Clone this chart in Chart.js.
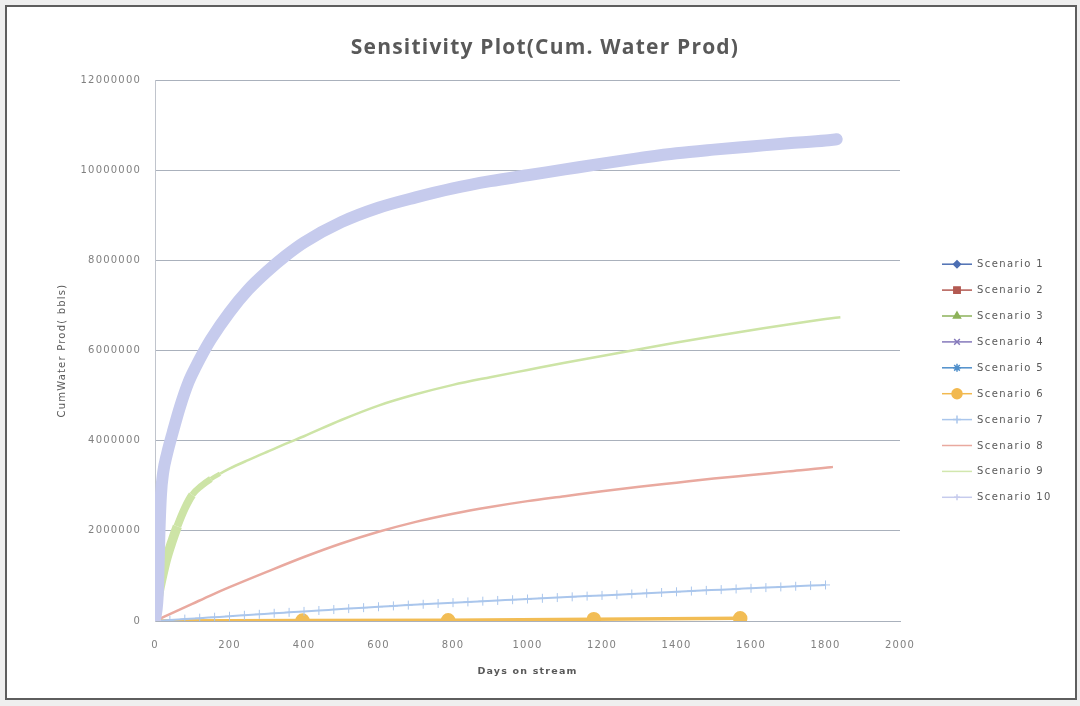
<!DOCTYPE html>
<html>
<head>
<meta charset="utf-8">
<title>Sensitivity Plot</title>
<script src="https://cdn.jsdelivr.net/npm/chart.js@4.4.1/dist/chart.umd.min.js"></script>
<style>
  html, body { margin: 0; padding: 0; background: #efefef; }
  #frame { position: absolute; left: 5px; top: 5px; width: 1068px; height: 691px; border: 2px solid #5e5e5e; background: #fff; }
  #chart { position: absolute; left: 0; top: 0; }
</style>
</head>
<body>
<div id="frame"></div>
<canvas id="chart" width="1080" height="706"></canvas>
<script>
// Values (days, bbls)
const scenarioNames = ['Scenario 1', 'Scenario 2', 'Scenario 3', 'Scenario 4', 'Scenario 5',
  'Scenario 6', 'Scenario 7', 'Scenario 8', 'Scenario 9', 'Scenario 10'];

const s6Days = [0, 396, 787, 1178, 1571];
const s6Vals = [0, 10000, 15000, 40000, 60000];

const s7Days = [0, 40, 80, 120, 160, 200, 240, 280, 320, 360, 400, 440, 480, 520, 560, 600,
  640, 680, 720, 760, 800, 840, 880, 920, 960, 1000, 1040, 1080, 1120, 1160, 1200, 1240,
  1280, 1320, 1360, 1400, 1440, 1480, 1520, 1560, 1600, 1640, 1680, 1720, 1760, 1800];
const s7Vals = [0, 20000, 42000, 63000, 84000, 105000, 127000, 149000, 171000, 192000, 213000,
  233000, 254000, 275000, 296000, 316000, 335000, 353000, 371000, 389000, 407000, 424000,
  440000, 456000, 472000, 488000, 504000, 520000, 536000, 552000, 568000, 584000, 600000,
  616000, 632000, 648000, 664000, 680000, 696000, 711000, 726000, 741000, 756000, 771000,
  786000, 800000];

const s8Days = [0, 50, 100, 150, 200, 300, 400, 500, 600, 700, 800, 900, 1000, 1100, 1200,
  1300, 1400, 1500, 1600, 1700, 1800, 1820];
const s8Vals = [0, 190000, 380000, 570000, 750000, 1090000, 1420000, 1720000, 1980000, 2200000,
  2380000, 2530000, 2660000, 2770000, 2880000, 2980000, 3070000, 3160000, 3240000, 3320000,
  3400000, 3420000];

const s9Days = [0, 10, 20, 30, 45, 60, 80, 100, 125, 150, 175, 200, 250, 300, 350, 400, 500,
  600, 700, 800, 900, 1000, 1100, 1200, 1300, 1400, 1500, 1600, 1700, 1800, 1840];
const s9Vals = [0, 600000, 1000000, 1350000, 1750000, 2100000, 2500000, 2800000, 3000000,
  3150000, 3270000, 3380000, 3570000, 3750000, 3930000, 4100000, 4460000, 4780000, 5030000,
  5240000, 5410000, 5570000, 5730000, 5880000, 6030000, 6180000, 6320000, 6450000, 6580000,
  6700000, 6740000];

const s10Days = [0, 8, 12, 16, 22, 32, 48, 67, 90, 110, 129, 150, 200, 250, 300, 350, 400, 500,
  600, 700, 800, 900, 1000, 1100, 1200, 1300, 1400, 1500, 1600, 1700, 1800, 1830];
const s10Vals = [0, 700000, 2000000, 2800000, 3300000, 3700000, 4200000, 4750000, 5300000,
  5650000, 5950000, 6250000, 6850000, 7350000, 7750000, 8100000, 8400000, 8850000, 9170000,
  9400000, 9600000, 9760000, 9890000, 10020000, 10150000, 10270000, 10380000, 10460000,
  10530000, 10600000, 10660000, 10690000];

const xTicks = { min: 0, max: 2000, step: 200 };
const yTicks = { min: 0, max: 12000000, step: 2000000 };

function pts(days, vals) {
  return days.map((d, i) => ({ x: d, y: vals[i] }));
}

// colour / marker per scenario (legend + lines)
const styles = [
  { color: '#4d6fb3', marker: 'rectRot', r: 3.5 },
  { color: '#b35a52', marker: 'rect', r: 4.5 },
  { color: '#8db25a', marker: 'triangle', r: 4 },
  { color: '#8579bb', marker: 'crossRot', r: 4 },
  { color: '#4f8fcb', marker: 'star', r: 4 },
  { color: '#f2b94f', marker: 'circle', r: 5 },
  { color: '#aac6ec', marker: 'cross', r: 4 },
  { color: '#e9a99f', marker: false, r: 0 },
  { color: '#d2e7ae', marker: false, r: 0 },
  { color: '#c6cbed', marker: 'cross', r: 3 }
];

const seriesData = [[], [], [], [], [],
  pts(s6Days, s6Vals), pts(s7Days, s7Vals), pts(s8Days, s8Vals),
  pts(s9Days, s9Vals), pts(s10Days, s10Vals)];

const datasets = scenarioNames.map((name, i) => ({
  label: name,
  data: seriesData[i],
  yAxisID: 'y',
  borderColor: styles[i].color,
  backgroundColor: styles[i].color,
  borderWidth: 2,
  pointRadius: 0,
  fill: false,
  order: 10 - i
}));

// scenario 6: thick orange with round markers
Object.assign(datasets[5], { borderWidth: 3.5, pointRadius: 5.5, pointStyle: 'circle', borderColor: '#f2bd55', backgroundColor: '#f2bd55' });
// scenario 7: light blue with + markers
Object.assign(datasets[6], { borderWidth: 2, pointRadius: 4.5, pointStyle: 'cross', pointBorderWidth: 1, cubicInterpolationMode: 'monotone' });
// scenario 8: thin salmon
Object.assign(datasets[7], { borderWidth: 2.5, cubicInterpolationMode: 'monotone' });
// scenario 9: light green, dense markers early make it thick
function greenWidth(c) {
  const d = c.p0.parsed.x;
  if (d < 60) return 9.5;
  if (d < 100) return 8;
  if (d < 150) return 6.5;
  if (d < 175) return 4.5;
  return 2.5;
}
Object.assign(datasets[8], {
  borderWidth: 2.5, cubicInterpolationMode: 'monotone', borderColor: '#cde4a6',
  segment: { borderWidth: greenWidth }
});
// scenario 10: heavy lavender band
Object.assign(datasets[9], { borderWidth: 12, cubicInterpolationMode: 'monotone', borderCapStyle: 'round', borderJoinStyle: 'round' });

const gridColor = '#aab1bc';
const tickColor = '#808080';

const spacingPlugin = {
  id: 'spacing',
  beforeDraw(chart) { chart.ctx.letterSpacing = '1.2px'; },
  afterDraw(chart) { chart.ctx.letterSpacing = '0px'; }
};

const sideLegend = {
  id: 'sideLegend',
  afterDraw(chart) {
    const ctx = chart.ctx;
    const area = chart.chartArea;
    const x0 = area.right + 42;
    const y0 = area.top + 184;
    ctx.save();
    ctx.letterSpacing = '1.4px';
    ctx.font = '10px "DejaVu Sans"';
    ctx.textBaseline = 'middle';
    ctx.textAlign = 'left';
    scenarioNames.forEach((name, i) => {
      const y = y0 + i * 25.9;
      const st = styles[i];
      ctx.strokeStyle = st.color;
      ctx.fillStyle = st.color;
      ctx.lineWidth = 1.5;
      ctx.beginPath();
      ctx.moveTo(x0, y);
      ctx.lineTo(x0 + 30, y);
      ctx.stroke();
      if (st.marker && Chart.helpers && Chart.helpers.drawPoint) {
        Chart.helpers.drawPoint(ctx, { pointStyle: st.marker, radius: st.r, rotation: 0, borderWidth: 1.2 }, x0 + 15, y);
      }
      ctx.fillStyle = '#595959';
      ctx.fillText(name, x0 + 35, y + 0.5);
    });
    ctx.restore();
  }
};

new Chart(document.getElementById('chart'), {
  type: 'line',
  data: { datasets: datasets },
  options: {
    responsive: false,
    animation: false,
    events: [],
    layout: { padding: { left: 10, right: 0, top: 0, bottom: 0 } },
    plugins: {
      legend: { display: false },
      tooltip: { enabled: false },
      title: {
        display: true,
        text: 'Sensitivity Plot(Cum. Water Prod)',
        color: '#595959',
        font: { family: 'Open Sans', size: 21, weight: 'bold', lineHeight: 1.2 },
        padding: { top: 35, bottom: 20 }
      }
    },
    scales: {
      x: {
        type: 'linear',
        min: xTicks.min,
        max: xTicks.max,
        ticks: { stepSize: xTicks.step, color: tickColor, padding: 10, font: { family: 'DejaVu Sans', size: 10 }, callback: v => String(v) },
        grid: { display: false },
        border: { display: true, color: gridColor },
        title: {
          display: true,
          text: 'Days on stream',
          color: '#595959',
          font: { family: 'DejaVu Sans', size: 9.5, weight: 'bold' },
          padding: { top: 0, bottom: 29 }
        },
        afterFit(s) { s.height = 85; }
      },
      y: {
        type: 'linear',
        position: 'left',
        min: yTicks.min,
        max: yTicks.max,
        ticks: { stepSize: yTicks.step, color: tickColor, padding: 14, font: { family: 'DejaVu Sans', size: 10 }, callback: v => String(v) },
        grid: { color: gridColor, drawTicks: false },
        border: { display: true, color: '#c0c4cc' },
        title: {
          display: true,
          text: 'CumWater Prod( bbls)',
          color: '#595959',
          font: { family: 'DejaVu Sans', size: 10 },
          padding: { top: 46, bottom: 0 }
        },
        afterFit(s) { s.width = 145; }
      },
      yR: {
        type: 'linear',
        position: 'right',
        grid: { display: false },
        ticks: { display: false },
        border: { display: false },
        afterFit(s) { s.width = 180; }
      }
    }
  },
  plugins: [spacingPlugin, sideLegend]
});
</script>
</body>
</html>
